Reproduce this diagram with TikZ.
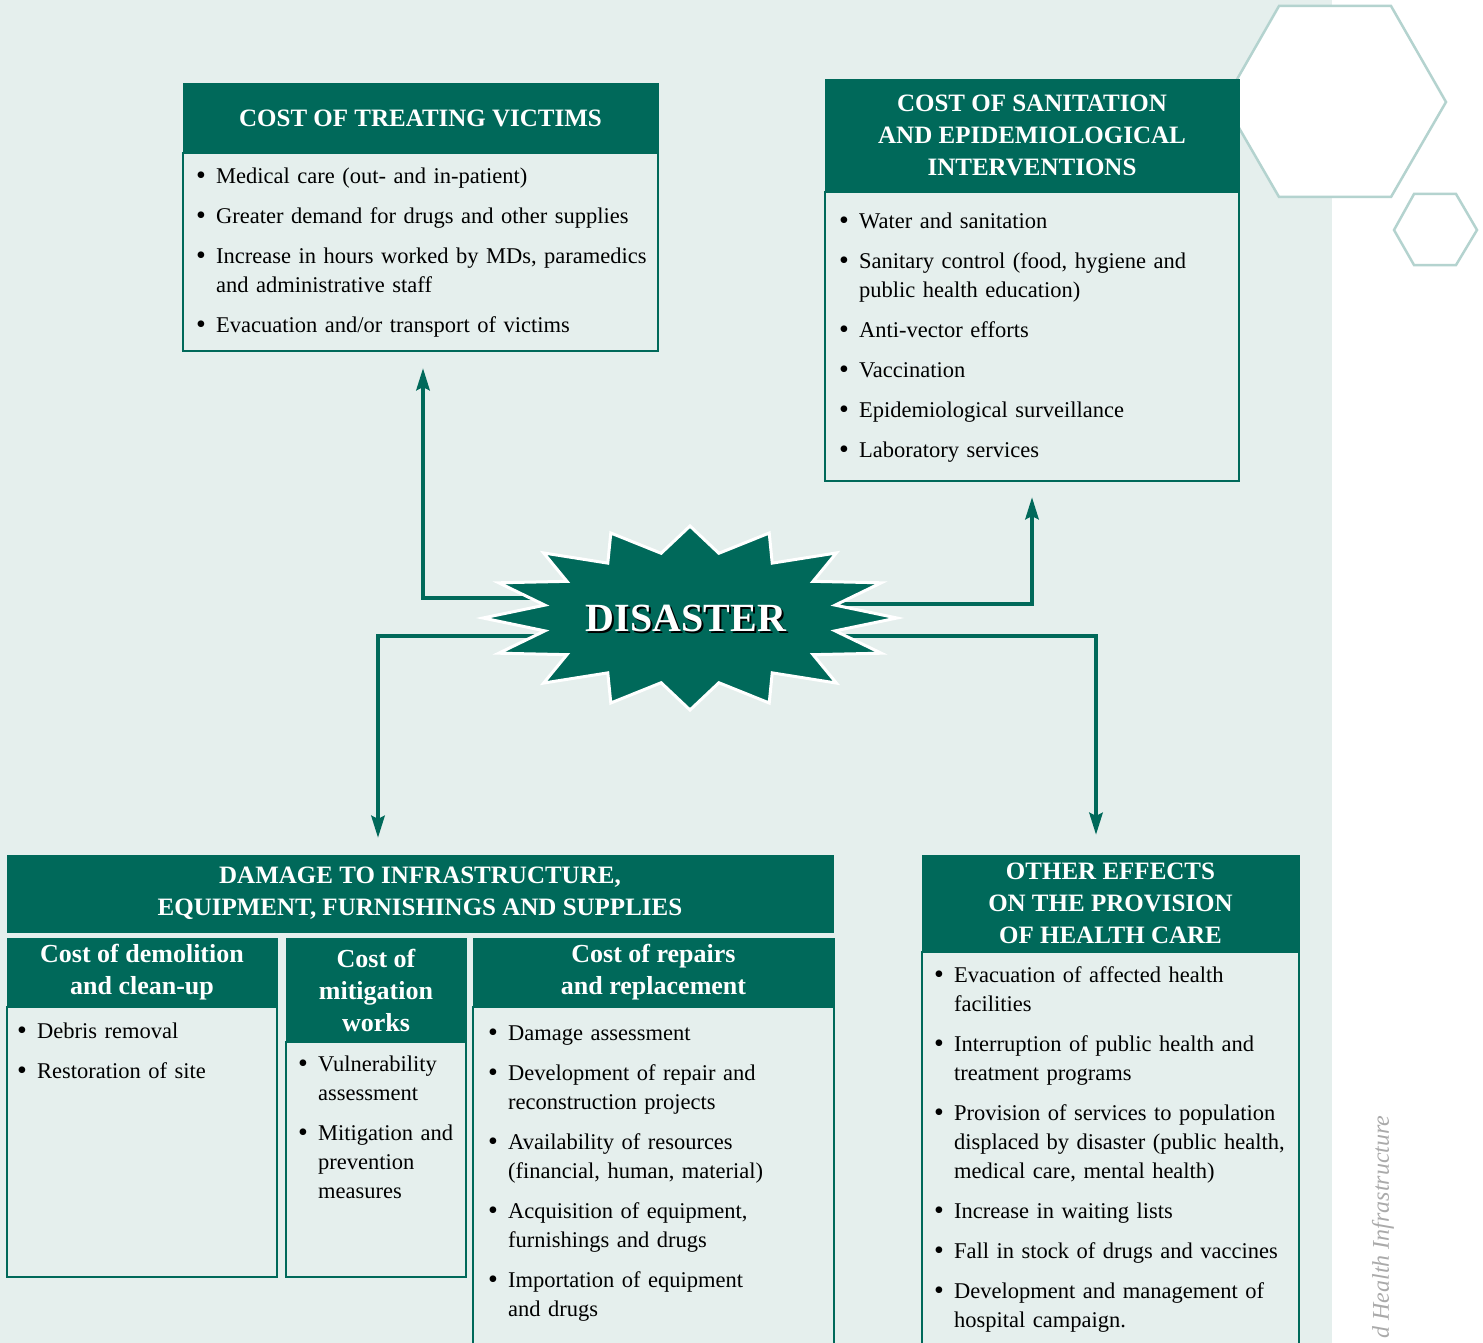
\documentclass[tikz,border=0pt]{standalone}
\usepackage{fontspec}
\setmainfont{Liberation Serif}
\usetikzlibrary{arrows.meta,positioning,calc}
\definecolor{darkteal}{RGB}{0,105,90}
\definecolor{paleteal}{RGB}{229,239,237}
\definecolor{hexgrey}{RGB}{180,211,207}
\definecolor{sidegrey}{RGB}{170,170,170}
\newcommand{\bitem}[1]{\par\hangindent=20pt\hangafter=1\noindent\hbox to 20pt{\raisebox{-1pt}{\fontsize{28}{28}\selectfont\textbullet}\hfil}#1\par\vspace{11pt}}
\tikzset{
  headbox/.style={fill=darkteal, draw=darkteal, text=white, font=\fontsize{25}{32}\selectfont\bfseries, align=center, inner sep=0pt, outer sep=0pt, anchor=north west},
  subhead/.style={headbox, font=\fontsize{26}{32}\selectfont\bfseries},
  bodybox/.style={draw=darkteal, line width=1.2pt, fill=paleteal, inner sep=0pt, outer sep=0pt},
  listtext/.style={font=\fontsize{22.5}{29}\selectfont, align=left, inner sep=0pt, anchor=north west},
  flow/.style={draw=darkteal, line width=4.5pt, -{Stealth[length=22pt,width=13pt,inset=3pt]}},
  hexline/.style={draw=hexgrey, line width=2.5pt, fill=white},
  burstshape/.style={fill=darkteal, draw=white, line width=3pt, line join=miter}
}
\begin{document}
\begin{tikzpicture}[x=1pt,y=-1pt]
  \useasboundingbox (0,0) rectangle (1483,1343);
  %background
  \fill[white] (0,0) rectangle (1483,1343);
  \fill[paleteal] (0,0) rectangle (1332,1343);
  \draw[hexline] (1279,6) -- (1391,6) -- (1446,102) -- (1391,197) -- (1279,197) -- (1224,102) -- cycle;
  \draw[hexline] (1414,194) -- (1456,194) -- (1477,230) -- (1456,265) -- (1414,265) -- (1394,230) -- cycle;
  \node[rotate=90, anchor=east, text=sidegrey, font=\fontsize{24}{24}\selectfont\itshape] (sidenote) at (1383,1112) {d Health Infrastructure};

  %top boxes
  \node[headbox, minimum width=475pt, minimum height=70pt] (treathead) at (183,83) {COST OF TREATING VICTIMS};
  \node[bodybox, minimum width=475pt, minimum height=198pt, below=0pt of treathead] (treatbody) {};
  \node[listtext, text width=460pt] (treatlist) at ([xshift=13pt,yshift=-1pt]treatbody.north west) {%
    \bitem{Medical care (out- and in-patient)}
    \bitem{Greater demand for drugs and other supplies}
    \bitem{Increase in hours worked by MDs, paramedics\newline and administrative staff}
    \bitem{Evacuation and/or transport of victims}};

  \node[headbox, minimum width=414pt, minimum height=113pt] (sanithead) at (825,79) {COST OF SANITATION\\AND EPIDEMIOLOGICAL\\INTERVENTIONS};
  \node[bodybox, minimum width=414pt, minimum height=289pt, below=0pt of sanithead] (sanitbody) {};
  \node[listtext, text width=395pt] (sanitlist) at ([xshift=14pt,yshift=-7pt]sanitbody.north west) {%
    \bitem{Water and sanitation}
    \bitem{Sanitary control (food, hygiene and\newline public health education)}
    \bitem{Anti-vector efforts}
    \bitem{Vaccination}
    \bitem{Epidemiological surveillance}
    \bitem{Laboratory services}};

  %bottom boxes
  \node[headbox, minimum width=826pt, minimum height=77pt] (damagehead) at (7,855) {DAMAGE TO INFRASTRUCTURE,\\EQUIPMENT, FURNISHINGS AND SUPPLIES};

  \node[subhead, minimum width=270pt, minimum height=69pt] (demohead) at (7,938) {Cost of demolition\\and clean-up};
  \node[bodybox, minimum width=270pt, minimum height=270pt, below=0pt of demohead] (demobody) {};
  \node[listtext, text width=255pt] (demolist) at ([xshift=10pt,yshift=-2pt]demobody.north west) {%
    \bitem{Debris removal}
    \bitem{Restoration of site}};

  \node[subhead, minimum width=180pt, minimum height=104pt] (mitihead) at (286,938) {Cost of\\mitigation\\works};
  \node[bodybox, minimum width=180pt, minimum height=235pt, below=0pt of mitihead] (mitibody) {};
  \node[listtext, text width=168pt] (mitilist) at ([xshift=12pt,yshift=0pt]mitibody.north west) {%
    \bitem{Vulnerability\newline assessment}
    \bitem{Mitigation and\newline prevention\newline measures}};

  \node[subhead, minimum width=361pt, minimum height=69pt] (repairhead) at (473,938) {Cost of repairs\\and replacement};
  \node[bodybox, minimum width=361pt, minimum height=345pt, below=0pt of repairhead] (repairbody) {};
  \node[listtext, text width=342pt] (repairlist) at ([xshift=15pt,yshift=-4pt]repairbody.north west) {%
    \bitem{Damage assessment}
    \bitem{Development of repair and\newline reconstruction projects}
    \bitem{Availability of resources\newline (financial, human, material)}
    \bitem{Acquisition of equipment,\newline furnishings and drugs}
    \bitem{Importation of equipment\newline and drugs}};

  \node[headbox, minimum width=377pt, minimum height=97pt] (otherhead) at (922,855) {OTHER EFFECTS\\ON THE PROVISION\\OF HEALTH CARE};
  \node[bodybox, minimum width=377pt, minimum height=400pt, below=0pt of otherhead] (otherbody) {};
  \node[listtext, text width=362pt] (otherlist) at ([xshift=12pt,yshift=-1pt]otherbody.north west) {%
    \bitem{Evacuation of affected health\newline facilities}
    \bitem{Interruption of public health and\newline treatment programs}
    \bitem{Provision of services to population\newline displaced by disaster (public health,\newline medical care, mental health)}
    \bitem{Increase in waiting lists}
    \bitem{Fall in stock of drugs and vaccines}
    \bitem{Development and management of\newline hospital campaign.}};

  %arrows
  \coordinate (burst) at (690,618);
  \draw[flow] ([yshift=20pt]burst) -| ([xshift=2.5pt,yshift=-17pt]treatbody.south);
  \draw[flow] ([yshift=14pt]burst) -| ([yshift=-16pt]sanitbody.south);
  \draw[flow] ([yshift=-18pt]burst) -| ([xshift=-42pt,yshift=17pt]damagehead.north);
  \draw[flow] ([yshift=-18pt]burst) -| ([xshift=-14.5pt,yshift=20pt]otherhead.north);

  %disaster star
  \begin{scope}[shift={(burst)}]
    \draw[burstshape] (0:207pt and 92pt) \foreach \a in {22.5,45,...,337.5} { -- (\a-11.25:148pt and 66pt) -- (\a:207pt and 92pt) } -- (348.75:148pt and 66pt) -- cycle;
  \end{scope}
  \node[text=black, font=\fontsize{40}{40}\selectfont\bfseries] (disastershadow) at (688,620) {DISASTER};
  \node[text=white, font=\fontsize{40}{40}\selectfont\bfseries] (disaster) at (686,618) {DISASTER};
\end{tikzpicture}
\end{document}
